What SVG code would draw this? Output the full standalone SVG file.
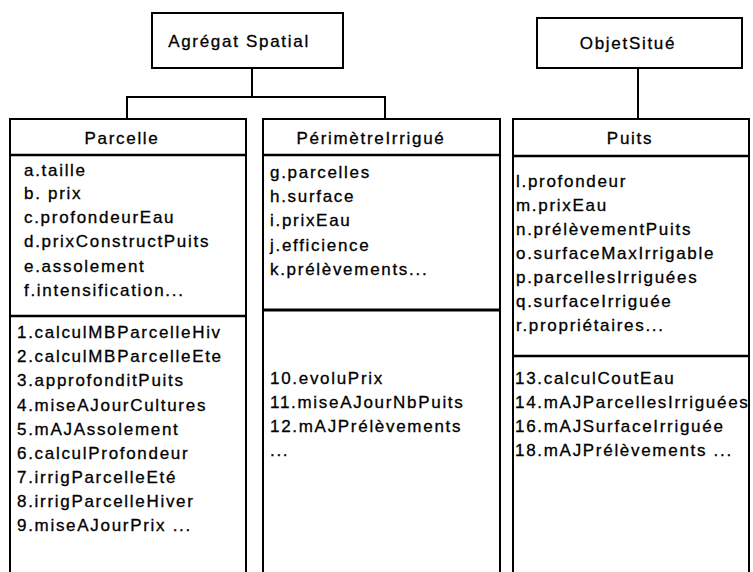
<svg xmlns="http://www.w3.org/2000/svg" width="753" height="572" viewBox="0 0 753 572">
<style>
.box{fill:#fff;stroke:#000;stroke-width:2}
.dv{stroke:#000;stroke-width:2.5;fill:none}
.conn{stroke:#000;stroke-width:2;fill:none}
.t{font-family:"Liberation Sans",Arial,sans-serif;font-size:17px;letter-spacing:1.7px;fill:#000;stroke:#000;stroke-width:0.3}
.c{text-anchor:middle}
</style>
<rect width="753" height="572" fill="#fff"/>
<g id="connectors">
<path class="conn" d="M252,68 V97 M127,119 V97 H385 V119"/>
<path class="conn" d="M638,68 V119"/>
</g>
<g id="agregat">
<rect class="box" x="152" y="13" width="191" height="55"/>
<text class="t c" x="239" y="47">Agrégat Spatial</text>
</g>
<g id="objetSitue">
<rect class="box" x="537" y="18" width="205" height="50"/>
<text class="t c" x="628" y="49">ObjetSitué</text>
</g>
<g id="parcelle">
<rect class="box" x="10" y="119" width="236" height="470"/>
<line class="dv" x1="10" y1="155" x2="246" y2="155"/>
<line class="dv" x1="10" y1="316" x2="246" y2="316"/>
<text class="t c" x="122" y="144">Parcelle</text>
<text class="t" x="24" y="176">a.taille</text>
<text class="t" x="24" y="199">b. prix</text>
<text class="t" x="24" y="223">c.profondeurEau</text>
<text class="t" x="24" y="247">d.prixConstructPuits</text>
<text class="t" x="24" y="272">e.assolement</text>
<text class="t" x="24" y="296">f.intensification...</text>
<text class="t" x="17" y="338">1.calculMBParcelleHiv</text>
<text class="t" x="17" y="362">2.calculMBParcelleEte</text>
<text class="t" x="17" y="386">3.approfonditPuits</text>
<text class="t" x="17" y="411">4.miseAJourCultures</text>
<text class="t" x="17" y="435">5.mAJAssolement</text>
<text class="t" x="17" y="459">6.calculProfondeur</text>
<text class="t" x="17" y="483">7.irrigParcelleEté</text>
<text class="t" x="17" y="507">8.irrigParcelleHiver</text>
<text class="t" x="17" y="531">9.miseAJourPrix ...</text>
</g>
<g id="perimetre">
<rect class="box" x="263" y="119" width="237" height="470"/>
<line class="dv" x1="263" y1="155" x2="500" y2="155"/>
<line class="dv" x1="263" y1="310" x2="500" y2="310" style="stroke-width:3"/>
<text class="t c" x="371" y="144">PérimètreIrrigué</text>
<text class="t" x="270" y="178">g.parcelles</text>
<text class="t" x="270" y="202">h.surface</text>
<text class="t" x="270" y="226">i.prixEau</text>
<text class="t" x="270" y="251">j.efficience</text>
<text class="t" x="270" y="275">k.prélèvements...</text>
<text class="t" x="270" y="384">10.evoluPrix</text>
<text class="t" x="270" y="408">11.miseAJourNbPuits</text>
<text class="t" x="270" y="432">12.mAJPrélèvements</text>
<text class="t" x="270" y="456">...</text>
</g>
<g id="puits">
<rect class="box" x="513" y="119" width="236" height="470"/>
<line class="dv" x1="513" y1="156" x2="749" y2="156"/>
<line class="dv" x1="513" y1="356" x2="749" y2="356"/>
<text class="t c" x="630" y="144">Puits</text>
<text class="t" x="516" y="187">l.profondeur</text>
<text class="t" x="516" y="211">m.prixEau</text>
<text class="t" x="516" y="235">n.prélèvementPuits</text>
<text class="t" x="516" y="259">o.surfaceMaxIrrigable</text>
<text class="t" x="516" y="283">p.parcellesIrriguées</text>
<text class="t" x="516" y="307">q.surfaceIrriguée</text>
<text class="t" x="516" y="331">r.propriétaires...</text>
<text class="t" x="515" y="384">13.calculCoutEau</text>
<text class="t" x="515" y="408">14.mAJParcellesIrriguées</text>
<text class="t" x="515" y="432">16.mAJSurfaceIrriguée</text>
<text class="t" x="515" y="456">18.mAJPrélèvements ...</text>
</g>
</svg>
